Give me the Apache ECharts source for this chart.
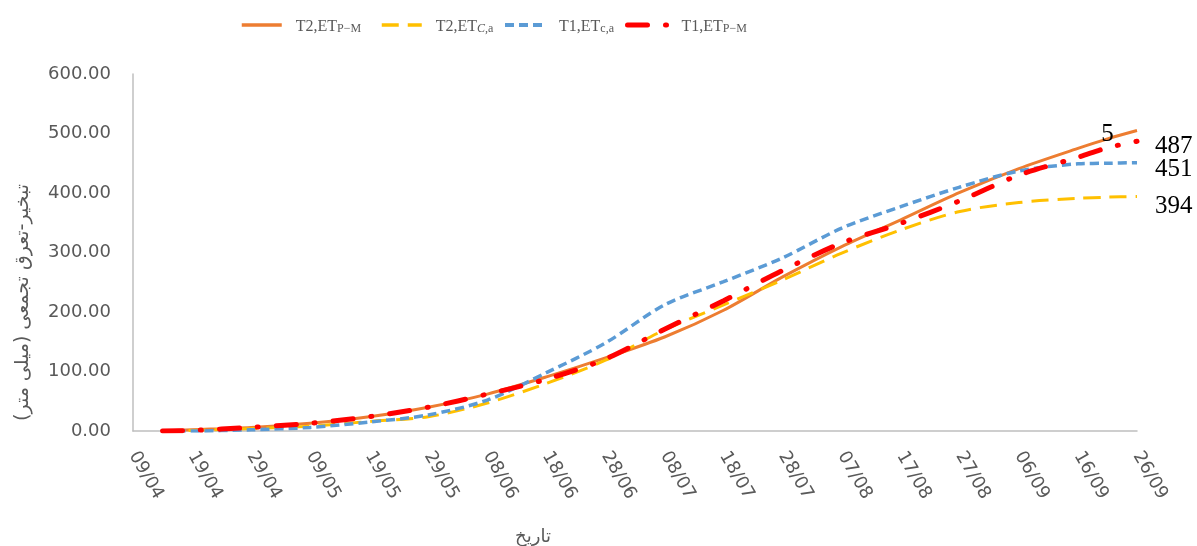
<!DOCTYPE html>
<html><head><meta charset="utf-8">
<script src="https://cdn.jsdelivr.net/npm/echarts@6/dist/echarts.min.js"></script>
<style>html,body{margin:0;padding:0;background:#fff}#c{width:1197px;height:546px}</style>
</head><body><div id="c"></div>
<script>
// x tick labels (every 10 days starting 09/04)
const tickLabels = ['09/04','19/04','29/04','09/05','19/05','29/05','08/06','18/06','28/06','08/07','18/07','28/07','07/08','17/08','27/08','06/09','16/09','26/09'];
// days after 09/04
const days = [5,10,20,30,40,50,60,70,80,90,100,110,120,130,140,150,160,165,170];
const t2PM = [0,2,6,13,24,40,62,91,123,158,203,259,310,355,401,441,475,491,505];
const t2Ca = [0,1,4,8,16,24,47,80,119,170,212,254,299,338,369,384,391,393,394];
const t1Ca = [0,0,2,6,15,27,52,98,148,212,251,291,341,377,410,437,449,450,451];
const t1PM = [0,1,6,13,24,40,62,87,121,171,219,270,316,349,387,430,460,476,487];
const seriesNames = ['T2,ET P-M', 'T2,ET C,a', 'T1,ET c,a', 'T1,ET P-M'];
const legendRich = {
  'T2,ET P-M': '{a|T2,ET}{s|P−M}',
  'T2,ET C,a': '{a|T2,ET}{i|C}{s|,a}',
  'T1,ET c,a': '{a|T1,ET}{s|c,a}',
  'T1,ET P-M': '{a|T1,ET}{s|P−M}'
};
const orangeLabelIdx = days.indexOf(165);

const pairs = arr => days.map((d, i) => [d, arr[i]]);
const gray = '#595959';
const endLbl = (dy) => ({
  show: true, formatter: p => String(p.value[1]), distance: 18, offset: [0, dy],
  fontFamily: 'Liberation Serif', fontSize: 25, color: '#000'
});

const chart = echarts.init(document.getElementById('c'), null, {renderer: 'canvas'});
const legendLefts = [240, 380, 503, 625];
const legendWidths = [3.5, 3.5, 4, 5];
const option = {
  animation: false,
  backgroundColor: '#fff',
  grid: {left: 133, right: 60, top: 74, bottom: 115, containLabel: false, outerBoundsMode: 'none'},
  legend: seriesNames.map((n, k) => ({
    data: [n], left: legendLefts[k], top: 7, padding: 0,
    itemWidth: 40, itemHeight: 14,
    itemStyle: {opacity: 0},
    lineStyle: {width: legendWidths[k]},
    formatter: name => legendRich[name],
    textStyle: {
      color: gray,
      rich: {
        a: {fontFamily: 'Liberation Serif', fontSize: 16, color: gray, lineHeight: 20, padding: [12, 0, 0, 9], verticalAlign: 'bottom'},
        s: {fontFamily: 'Liberation Serif', fontSize: 12, color: gray, lineHeight: 5, verticalAlign: 'bottom'},
        i: {fontFamily: 'Liberation Serif', fontSize: 12, fontStyle: 'italic', color: gray, lineHeight: 5, verticalAlign: 'bottom'}
      }
    }
  })),
  xAxis: {
    type: 'value', min: 0, max: 170, interval: 10,
    axisLine: {show: true, lineStyle: {color: '#BFBFBF', width: 1.5}},
    axisTick: {show: false}, splitLine: {show: false},
    axisLabel: {rotate: -60, margin: 22, fontFamily: 'DejaVu Sans', fontSize: 18, color: gray,
      formatter: v => tickLabels[Math.round(v / 10)] || ''},
    name: 'تاریخ', nameLocation: 'middle', nameGap: 97,
    nameTextStyle: {fontFamily: 'DejaVu Sans', fontSize: 18, color: gray, padding: [0, 204, 0, 0]}
  },
  yAxis: {
    type: 'value', min: 0, max: 600, interval: 100,
    axisLine: {show: true, lineStyle: {color: '#BFBFBF', width: 1.5}},
    axisTick: {show: false}, splitLine: {show: false},
    axisLabel: {margin: 22, fontFamily: 'DejaVu Sans', fontSize: 18, color: gray, formatter: v => v.toFixed(2)},
    name: 'تبخیر-تعرق تجمعی (میلی متر)', nameLocation: 'middle', nameRotate: 90, nameGap: 100,
    nameTextStyle: {fontFamily: 'DejaVu Sans', fontSize: 19, color: gray, padding: [0, 100, 0, 0]}
  },
  series: [
    {
      name: seriesNames[0], type: 'line', smooth: 0.3, symbol: 'none',
      data: pairs(t2PM).map((p, i) => i === orangeLabelIdx ? {
        value: p, symbol: 'circle', symbolSize: 0.1,
        label: {show: true, position: 'inside', offset: [0, -4], formatter: '5',
          fontFamily: 'Liberation Serif', fontSize: 25, color: '#000'}
      } : p),
      lineStyle: {color: '#ED7D31', width: 3}, itemStyle: {color: '#ED7D31'}, z: 2
    },
    {
      name: seriesNames[1], type: 'line', smooth: 0.3, symbol: 'none', data: pairs(t2Ca),
      lineStyle: {color: '#FFC000', width: 3, type: [17, 9]}, itemStyle: {color: '#FFC000'},
      endLabel: endLbl(10), z: 3
    },
    {
      name: seriesNames[2], type: 'line', smooth: 0.3, symbol: 'none', data: pairs(t1Ca),
      lineStyle: {color: '#5B9BD5', width: 3.5, type: [9, 5]}, itemStyle: {color: '#5B9BD5'},
      endLabel: endLbl(7), z: 4
    },
    {
      name: seriesNames[3], type: 'line', smooth: 0.3, symbol: 'none', data: pairs(t1PM),
      lineStyle: {color: '#FF0000', width: 5, type: [20, 18, 1, 18], cap: 'round'}, itemStyle: {color: '#FF0000'},
      endLabel: endLbl(5), z: 5
    }
  ]
};
chart.setOption(option);
</script></body></html>
